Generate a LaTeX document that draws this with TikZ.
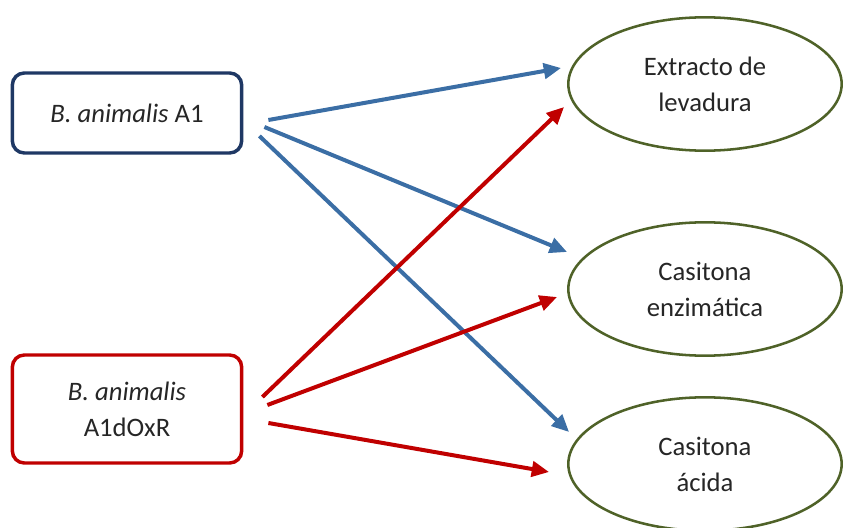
\documentclass[tikz,border=0pt]{standalone}
\usepackage{fontspec}
\setmainfont{Carlito}
\usepackage{tikz}
\usetikzlibrary{arrows.meta,positioning,calc,shapes.geometric}
\usepackage{xcolor}
\tikzset{>={Triangle[length=13pt,width=11.5pt]}}
\definecolor{A1color}{RGB}{31,56,100}
\definecolor{RXcolor}{RGB}{192,0,0}
\definecolor{Flecha}{RGB}{59,110,165}
\definecolor{Medio}{RGB}{79,98,40}
\definecolor{Texto}{RGB}{38,38,38}

\begin{document}
\begin{tikzpicture}[x=0.75pt, y=-0.75pt,
  cepa/.style={draw, rounded corners=9pt, line width=2.6pt, minimum width=172pt,
    align=center, text=Texto, font=\fontsize{20}{27}\selectfont},
  medio/.style={draw=Medio, ellipse, line width=1.9pt, minimum width=205pt,
    minimum height=100pt, inner sep=0pt, align=center, text=Texto,
    font=\fontsize{20}{27}\selectfont},
  azul/.style={->, draw=Flecha, fill=Flecha, line width=3pt},
  rojo/.style={->, draw=RXcolor, fill=RXcolor, line width=3pt}]

\useasboundingbox (0,0) rectangle (844,528);

% Cepas
\node[cepa, draw=A1color, minimum height=60pt] (a1) at (127,113) {\textit{B. animalis} A1};
\node[cepa, draw=RXcolor, minimum height=81pt] (rx) at (127,409) {\textit{B. animalis}\\A1dOxR};

% Medios de cultivo
\node[medio] (ext) at (705,84) {Extracto de\\levadura};
\node[medio] (enz) at (705,289) {Casitona\\enzimática};
\node[medio] (aci) at (705,464) {Casitona\\ácida};

% Flechas de A1
\draw[azul] ($(a1.east)+(25,7)$) -- ($(ext.west)+(-6,-16)$);
\draw[azul] ($(a1.east)+(21,14)$) -- ($(enz.west)+(0,-37)$);
\draw[azul] ($(a1.east)+(16,23)$) -- ($(aci.west)+(2,-32)$);

% Flechas de A1dOxR
\draw[rojo] ($(rx.east)+(19,-12)$) -- ($(ext.west)+(-3,23)$);
\draw[rojo] ($(rx.east)+(24,-4)$) -- ($(enz.west)+(-10,8)$);
\draw[rojo] ($(rx.east)+(25,14)$) -- ($(aci.west)+(-18,8)$);

\end{tikzpicture}
\end{document}
